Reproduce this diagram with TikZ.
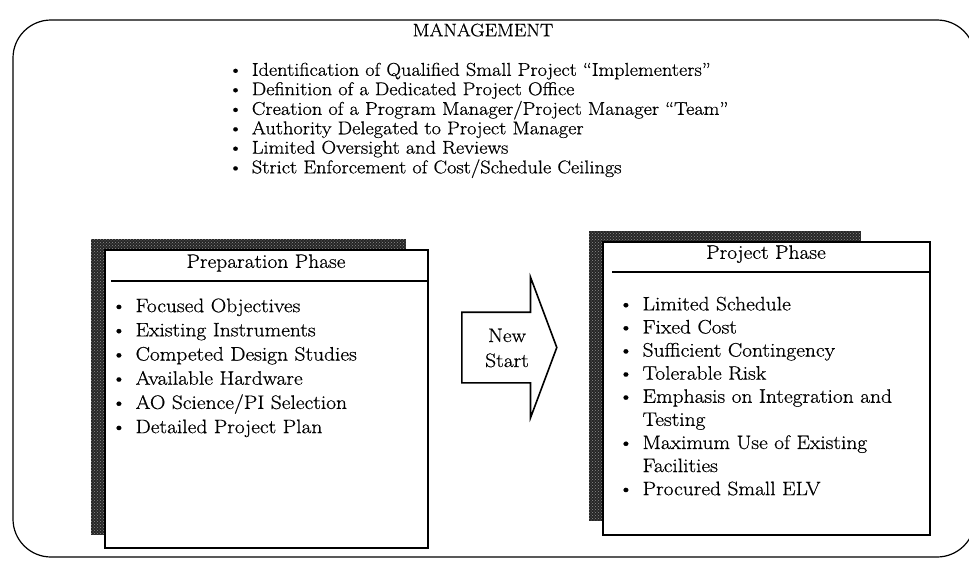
\documentclass[tikz,border=0pt]{standalone}
\usepackage{fontspec}
\setmainfont{Latin Modern Roman}[FakeStretch=1.1,FakeBold=0.6]
\usepackage{tikz}
\usetikzlibrary{positioning}
\usetikzlibrary{shapes.arrows}
\usetikzlibrary{patterns}
\usetikzlibrary{backgrounds}

\newcommand{\bulletlist}[1]{\begin{tabular}{@{}l@{\hspace{9pt}}l@{}}#1\end{tabular}}

\tikzset{
  txt/.style={font=\fontsize{19.5}{24}\selectfont, inner sep=0pt},
  phasebox/.style={draw, line width=1.8pt, fill=white, inner sep=0pt},
  boxshadow/.style={fill=black!85, postaction={pattern=crosshatch dots, pattern color=black!45}},
  headrule/.style={line width=1.6pt},
  bigarrow/.style={single arrow, draw, line width=1.6pt, fill=white, inner xsep=0pt, inner ysep=34.5pt,
    minimum height=95pt, single arrow head extend=35pt, single arrow tip angle=139},
}

\begin{document}
\begin{tikzpicture}[x=1pt,y=-1pt]
  \useasboundingbox (0,0) rectangle (969,565);
  \draw[line width=1.2pt, rounded corners=38pt] (13,20) rectangle (975,557);

  % management part
  \node[txt, font=\fontsize{18}{20}\selectfont] (mgmt) at (483,30) {MANAGEMENT};
  \node[txt, anchor=north west, font=\fontsize{18.5}{19.4}\selectfont] (mlist) at (228,62) {\bulletlist{
    \textbullet & Identification of Qualified Small Project ``Implementers''\\
    \textbullet & Definition of a Dedicated Project Office\\
    \textbullet & Creation of a Program Manager/Project Manager ``Team''\\
    \textbullet & Authority Delegated to Project Manager\\
    \textbullet & Limited Oversight and Reviews\\
    \textbullet & Strict Enforcement of Cost/Schedule Ceilings}};

  % preparation phase
  \node[phasebox, minimum width=323pt, minimum height=298pt] (prep) at (266.5,399) {};
  \node[txt] (preptitle) at (266,263) {Preparation Phase};
  \draw[headrule] ([shift={(7,32)}]prep.north west) -- ([shift={(0,32)}]prep.north east);
  \node[txt, anchor=north west, font=\fontsize{19.5}{24.2}\selectfont] (preplist) at (111,295) {\bulletlist{
    \textbullet & Focused Objectives\\
    \textbullet & Existing Instruments\\
    \textbullet & Competed Design Studies\\
    \textbullet & Available Hardware\\
    \textbullet & AO Science/PI Selection\\
    \textbullet & Detailed Project Plan}};

  % project phase
  \node[phasebox, minimum width=327pt, minimum height=293pt] (proj) at (766.5,388.5) {};
  \node[txt] (projtitle) at (766,254) {Project Phase};
  \draw[headrule] ([shift={(10,31)}]proj.north west) -- ([shift={(0,31)}]proj.north east);
  \node[txt, anchor=north west, font=\fontsize{19.5}{23.1}\selectfont] (projlist) at (618,294) {\bulletlist{
    \textbullet & Limited Schedule\\
    \textbullet & Fixed Cost\\
    \textbullet & Sufficient Contingency\\
    \textbullet & Tolerable Risk\\
    \textbullet & Emphasis on Integration and\\
                & Testing\\
    \textbullet & Maximum Use of Existing\\
                & Facilities\\
    \textbullet & Procured Small ELV}};

  \begin{scope}[on background layer]
    \fill[boxshadow] ([xshift=-13pt,yshift=10pt]prep.north west) rectangle ([xshift=-23pt,yshift=14pt]prep.south east);
    \fill[boxshadow] ([xshift=-13pt,yshift=10pt]proj.north west) rectangle ([xshift=-70pt,yshift=15pt]proj.south east);
  \end{scope}

  % new start arrow
  \node[bigarrow, anchor=tail] (newstart) at (461,347.5) {};
  \node[txt, align=center, font=\fontsize{19.5}{25}\selectfont] (newtext) at (507,348) {New\\Start};
\end{tikzpicture}
\end{document}
